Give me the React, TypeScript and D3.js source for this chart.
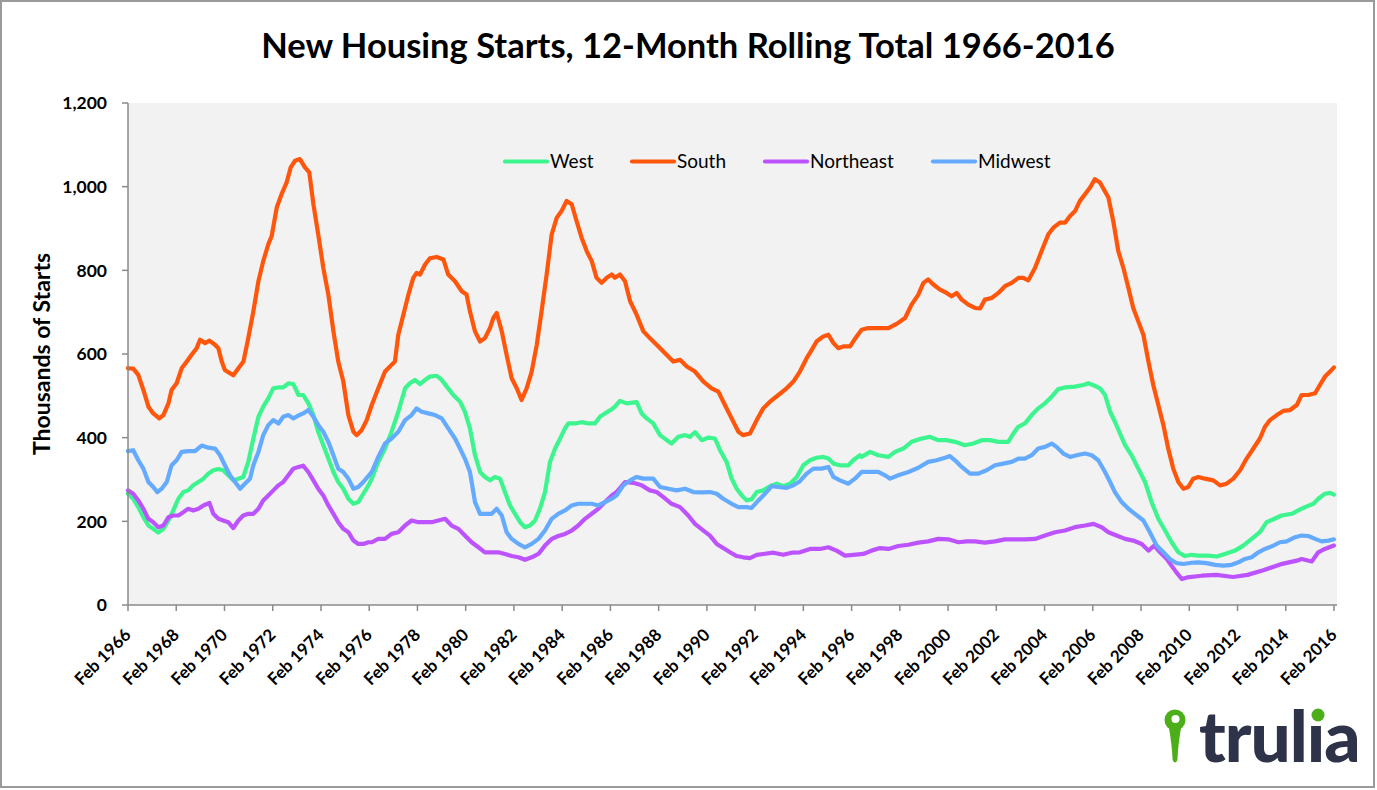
import React from "react";
import * as d3 from "d3";

type Pt = [number, number];

const seriesNames = ["West", "South", "Northeast", "Midwest"];
const seriesColors = ["#3DF58F", "#FF560B", "#BD52FF", "#64AAFF"];

const westData: Pt[] = [
  [1966.08,266],[1966.30,254],[1966.51,234],[1966.72,210],[1966.93,190],[1967.13,182],[1967.34,173],[1967.55,182],[1967.76,202],[1967.96,226],[1968.17,254],[1968.38,270],[1968.58,274],[1968.79,286],[1969.00,294],[1969.21,302],[1969.41,314],[1969.62,322],[1969.83,325],[1970.03,322],[1970.24,310],[1970.45,298],[1970.66,302],[1970.86,306],[1971.07,342],[1971.28,398],[1971.49,450],[1971.69,474],[1971.90,494],[1972.11,518],[1972.32,520],[1972.52,520],[1972.73,530],[1972.94,528],[1973.15,502],[1973.35,502],[1973.56,482],[1973.77,454],[1973.97,414],[1974.18,382],[1974.39,350],[1974.60,318],[1974.80,294],[1975.01,278],[1975.22,254],[1975.43,242],[1975.63,246],[1975.84,266],[1976.05,286],
  [1976.19,302],[1976.46,342],[1976.74,374],[1977.01,414],[1977.29,462],[1977.57,518],[1977.77,530],[1977.98,538],[1978.19,528],[1978.40,538],[1978.60,546],[1978.88,548],[1979.09,538],[1979.30,522],[1979.57,502],[1979.85,486],[1980.05,462],[1980.26,422],[1980.47,358],[1980.68,318],[1980.88,306],[1981.09,298],[1981.30,306],[1981.51,302],[1981.71,270],[1981.92,238],[1982.13,218],[1982.34,198],[1982.54,186],[1982.75,190],[1982.96,202],[1983.16,230],[1983.37,270],[1983.58,342],[1983.79,374],[1984.00,398],[1984.20,422],[1984.34,434],[1984.62,434],[1984.89,437],[1985.17,434],[1985.44,434],[1985.65,450],[1985.86,458],[1986.14,468],
  [1986.27,474],[1986.48,488],[1986.76,482],[1987.17,485],[1987.38,458],[1987.59,446],[1987.86,434],[1988.14,406],[1988.42,394],[1988.62,386],[1988.90,402],[1989.18,406],[1989.38,402],[1989.59,413],[1989.87,394],[1990.14,400],[1990.42,398],[1990.63,370],[1990.90,342],[1991.11,302],[1991.32,278],[1991.53,262],[1991.73,250],[1991.94,253],[1992.15,270],[1992.42,274],[1992.70,284],[1992.98,290],[1993.25,284],[1993.53,290],[1993.81,306],[1994.08,334],[1994.36,346],[1994.63,352],[1994.91,354],[1995.12,350],[1995.33,338],[1995.60,334],[1995.95,334],[1996.15,346],[1996.43,358],
  [1996.50,354],[1996.85,366],[1997.19,358],[1997.61,354],[1997.88,366],[1998.23,374],[1998.57,390],[1998.99,398],[1999.33,402],[1999.68,394],[2000.02,394],[2000.37,390],[2000.78,382],[2001.13,386],[2001.48,394],[2001.82,394],[2002.17,390],[2002.58,390],[2002.79,410],[2002.99,426],[2003.27,434],[2003.55,454],[2003.82,470],[2004.10,482],[2004.38,498],[2004.65,516],[2004.93,520],[2005.34,522],[2005.69,526],[2005.90,530],[2006.17,524],
  [2006.38,518],[2006.59,502],[2006.80,462],[2007.00,438],[2007.21,410],[2007.42,382],[2007.69,358],[2007.97,326],[2008.25,294],[2008.52,246],[2008.80,206],[2009.08,178],[2009.35,150],[2009.63,126],[2009.91,117],[2010.18,120],[2010.46,118],[2010.87,118],[2011.22,116],[2011.56,122],[2011.98,130],[2012.32,142],[2012.67,158],[2013.01,174],[2013.29,198],[2013.57,205],[2013.91,214],[2014.33,218],[2014.60,226],[2014.88,234],[2015.23,242],[2015.43,254],[2015.71,266],[2015.92,268],[2016.08,264],
];

const southData: Pt[] = [
  [1966.08,566],[1966.30,565],[1966.51,550],[1966.72,514],[1966.93,474],[1967.13,458],[1967.38,446],[1967.55,454],[1967.76,482],[1967.89,514],[1968.10,530],[1968.31,566],[1968.52,582],[1968.72,598],[1968.93,614],[1969.07,634],[1969.28,626],[1969.46,632],[1969.69,622],[1969.83,614],[1969.97,582],[1970.10,562],[1970.31,554],[1970.45,549],[1970.66,566],[1970.87,582],[1971.07,638],[1971.28,702],[1971.49,774],[1971.69,822],[1971.90,862],[1972.04,882],[1972.25,950],[1972.45,982],[1972.66,1010],[1972.83,1046],[1973.01,1062],[1973.21,1066],[1973.42,1046],[1973.60,1034],[1973.77,958],[1973.97,886],[1974.18,806],[1974.39,742],[1974.60,654],[1974.80,582],[1975.01,534],[1975.22,454],[1975.43,414],[1975.56,406],[1975.77,418],[1975.98,442],
  [1976.19,478],[1976.46,518],[1976.74,558],[1977.01,574],[1977.15,582],[1977.29,646],[1977.50,694],[1977.71,742],[1977.91,782],[1978.05,794],[1978.19,790],[1978.40,814],[1978.60,829],[1978.88,832],[1979.16,826],[1979.36,790],[1979.64,774],[1979.92,750],[1980.12,742],[1980.26,702],[1980.47,654],[1980.68,630],[1980.88,638],[1981.09,662],[1981.23,686],[1981.37,698],[1981.58,654],[1981.78,598],[1981.99,542],[1982.20,518],[1982.40,490],[1982.61,518],[1982.82,558],[1983.03,622],[1983.23,702],[1983.44,790],[1983.65,886],[1983.86,926],[1984.06,942],[1984.27,966],[1984.48,958],[1984.68,918],[1984.89,878],[1985.10,846],[1985.31,822],[1985.51,782],[1985.72,770],[1985.93,782],[1986.14,790],
  [1986.27,782],[1986.48,790],[1986.69,774],[1986.90,726],[1987.17,694],[1987.45,654],[1987.72,638],[1988.00,622],[1988.35,602],[1988.69,582],[1988.97,586],[1989.25,570],[1989.59,558],[1989.94,534],[1990.28,518],[1990.56,510],[1990.83,478],[1991.11,446],[1991.39,414],[1991.59,406],[1991.87,410],[1992.15,442],[1992.42,470],[1992.70,486],[1993.05,502],[1993.39,518],[1993.67,534],[1993.94,558],[1994.22,590],[1994.43,610],[1994.63,630],[1994.91,642],[1995.12,646],[1995.33,626],[1995.53,614],[1995.74,618],[1996.02,618],[1996.29,642],
  [1996.50,658],[1996.78,662],[1997.19,662],[1997.61,662],[1997.95,672],[1998.30,686],[1998.57,718],[1998.85,742],[1999.06,770],[1999.26,778],[1999.47,766],[1999.75,754],[2000.02,746],[2000.23,738],[2000.44,746],[2000.65,730],[2000.92,718],[2001.20,710],[2001.41,709],[2001.61,730],[2001.89,734],[2002.17,746],[2002.44,762],[2002.72,770],[2003.00,782],[2003.20,782],[2003.41,776],[2003.69,806],[2003.96,846],[2004.24,886],[2004.45,902],[2004.72,914],[2004.93,914],[2005.14,930],[2005.35,942],[2005.55,966],[2005.76,982],[2005.97,998],[2006.17,1018],
  [2006.38,1010],[2006.73,974],[2006.93,918],[2007.14,846],[2007.35,806],[2007.56,758],[2007.76,710],[2007.97,678],[2008.18,646],[2008.39,582],[2008.59,526],[2008.80,478],[2009.01,430],[2009.21,374],[2009.42,326],[2009.63,294],[2009.84,278],[2010.04,282],[2010.25,302],[2010.46,306],[2010.73,302],[2011.08,298],[2011.36,286],[2011.63,290],[2011.91,302],[2012.19,322],[2012.46,350],[2012.74,374],[2013.01,398],[2013.22,426],[2013.43,442],[2013.71,454],[2013.98,464],[2014.26,466],[2014.54,478],[2014.74,502],[2015.02,502],[2015.30,506],[2015.50,526],[2015.71,546],[2015.92,558],[2016.08,568],
];

const northeastData: Pt[] = [
  [1966.08,274],[1966.30,266],[1966.51,250],[1966.72,230],[1966.93,206],[1967.13,198],[1967.34,186],[1967.55,190],[1967.76,210],[1967.96,214],[1968.17,214],[1968.38,222],[1968.58,230],[1968.79,226],[1969.00,230],[1969.21,238],[1969.46,244],[1969.62,218],[1969.83,206],[1970.03,202],[1970.24,198],[1970.45,184],[1970.66,202],[1970.86,214],[1971.07,218],[1971.28,218],[1971.49,230],[1971.69,250],[1971.90,262],[1972.11,274],[1972.32,286],[1972.52,294],[1972.73,310],[1972.94,326],[1973.15,330],[1973.35,333],[1973.56,318],[1973.77,298],[1973.97,278],[1974.18,262],[1974.39,238],[1974.60,218],[1974.80,198],[1975.01,182],[1975.22,174],[1975.43,154],[1975.63,146],[1975.84,146],[1976.05,150],
  [1976.19,150],[1976.46,158],[1976.74,158],[1977.01,170],[1977.29,174],[1977.57,190],[1977.84,202],[1978.12,198],[1978.40,198],[1978.67,198],[1978.95,202],[1979.23,206],[1979.50,190],[1979.78,182],[1980.05,166],[1980.33,150],[1980.61,138],[1980.88,126],[1981.16,126],[1981.44,126],[1981.71,122],[1981.99,117],[1982.27,114],[1982.54,108],[1982.82,114],[1983.10,122],[1983.37,142],[1983.65,158],[1983.92,165],[1984.20,170],[1984.48,178],[1984.75,190],[1985.03,206],[1985.31,218],[1985.58,230],[1985.86,246],[1986.14,262],
  [1986.34,270],[1986.69,294],[1987.03,292],[1987.38,286],[1987.72,274],[1988.00,270],[1988.28,258],[1988.62,242],[1988.97,234],[1989.31,214],[1989.59,194],[1989.94,178],[1990.21,166],[1990.49,146],[1990.76,136],[1991.04,126],[1991.32,117],[1991.59,114],[1991.87,112],[1992.15,120],[1992.42,122],[1992.84,125],[1993.25,120],[1993.60,125],[1993.94,126],[1994.36,134],[1994.77,134],[1995.12,138],[1995.46,130],[1995.81,118],[1996.15,120],
  [1996.57,122],[1996.91,130],[1997.26,136],[1997.61,134],[1998.02,141],[1998.44,144],[1998.85,149],[1999.26,152],[1999.68,158],[2000.09,157],[2000.51,150],[2000.85,152],[2001.20,152],[2001.61,149],[2002.03,152],[2002.44,157],[2002.86,157],[2003.27,157],[2003.69,158],[2004.10,166],[2004.52,174],[2004.93,178],[2005.34,186],[2005.76,190],[2006.11,194],
  [2006.45,186],[2006.73,174],[2007.07,166],[2007.42,158],[2007.76,154],[2008.11,146],[2008.39,130],[2008.63,142],[2008.87,126],[2009.15,110],[2009.35,94],[2009.55,78],[2009.77,62],[2010.00,66],[2010.60,70],[2011.20,72],[2011.90,67],[2012.50,72],[2013.15,83],[2013.85,97],[2014.54,106],[2014.74,110],[2015.16,104],[2015.43,126],[2015.70,134],[2016.08,142],
];

const midwestData: Pt[] = [
  [1966.08,368],[1966.30,370],[1966.51,346],[1966.72,326],[1966.93,294],[1967.13,282],[1967.30,270],[1967.48,278],[1967.69,294],[1967.89,334],[1968.10,346],[1968.31,366],[1968.58,368],[1968.86,368],[1969.14,381],[1969.41,376],[1969.69,374],[1969.90,358],[1970.10,334],[1970.31,310],[1970.52,294],[1970.73,278],[1970.93,290],[1971.14,302],[1971.28,334],[1971.49,366],[1971.69,406],[1971.90,430],[1972.11,442],[1972.32,434],[1972.52,450],[1972.73,454],[1972.94,446],[1973.15,453],[1973.35,458],[1973.56,466],[1973.77,450],[1973.97,430],[1974.18,414],[1974.39,390],[1974.60,358],[1974.80,326],[1975.01,318],[1975.22,302],[1975.43,278],[1975.63,282],[1975.84,294],
  [1976.19,318],[1976.46,354],[1976.74,386],[1977.01,398],[1977.29,414],[1977.57,442],[1977.84,454],[1978.05,470],[1978.26,462],[1978.53,458],[1978.81,454],[1979.09,446],[1979.36,422],[1979.64,398],[1979.85,374],[1980.05,350],[1980.26,318],[1980.47,246],[1980.68,218],[1980.88,218],[1981.16,218],[1981.37,230],[1981.58,214],[1981.78,174],[1981.99,158],[1982.27,146],[1982.54,138],[1982.82,146],[1983.10,158],[1983.37,178],[1983.65,206],[1983.92,218],[1984.20,226],[1984.48,238],[1984.75,242],[1985.03,242],[1985.31,242],[1985.58,238],[1985.86,246],[1986.14,254],
  [1986.34,262],[1986.62,286],[1986.90,298],[1987.17,306],[1987.45,302],[1987.86,302],[1988.14,282],[1988.48,278],[1988.83,274],[1989.18,278],[1989.52,270],[1989.87,269],[1990.21,270],[1990.49,266],[1990.76,254],[1991.11,242],[1991.39,234],[1991.73,234],[1991.94,232],[1992.22,250],[1992.49,266],[1992.77,284],[1993.05,282],[1993.39,280],[1993.67,286],[1993.94,296],[1994.22,314],[1994.50,326],[1994.84,326],[1995.12,330],[1995.33,306],[1995.60,298],[1995.95,290],[1996.22,302],
  [1996.50,318],[1996.85,318],[1997.19,318],[1997.47,310],[1997.68,302],[1998.02,310],[1998.44,318],[1998.85,328],[1999.26,342],[1999.61,346],[1999.96,352],[2000.16,356],[2000.37,346],[2000.65,330],[2000.99,314],[2001.34,314],[2001.68,322],[2002.03,334],[2002.37,338],[2002.72,342],[2003.00,350],[2003.27,350],[2003.55,358],[2003.82,374],[2004.10,378],[2004.38,386],[2004.58,378],[2004.86,362],[2005.14,354],[2005.41,358],[2005.76,362],[2006.04,358],[2006.31,346],
  [2006.59,318],[2006.80,294],[2007.00,270],[2007.28,246],[2007.56,230],[2007.83,218],[2008.18,202],[2008.45,174],[2008.73,142],[2009.01,126],[2009.28,110],[2009.56,100],[2009.84,98],[2010.18,101],[2010.46,102],[2010.80,100],[2011.15,96],[2011.49,94],[2011.84,96],[2012.12,102],[2012.39,110],[2012.67,114],[2012.95,126],[2013.22,134],[2013.57,142],[2013.84,150],[2014.12,152],[2014.47,162],[2014.74,166],[2015.02,165],[2015.30,158],[2015.57,152],[2015.85,154],[2016.08,157],
];

const yTicks = [0, 200, 400, 600, 800, 1000, 1200];
const xTickYears = [1966, 1968, 1970, 1972, 1974, 1976, 1978, 1980, 1982, 1984, 1986, 1988, 1990, 1992, 1994, 1996, 1998, 2000, 2002, 2004, 2006, 2008, 2010, 2012, 2014, 2016];
const xTickLabels = xTickYears.map((y) => `Feb ${y}`);

const titleText = "New Housing Starts, 12-Month Rolling Total 1966-2016";
const yAxisTitle = "Thousands of Starts";

const FONT = "Lato, 'Open Sans', sans-serif";

export default function App() {
  const W = 1377, H = 790;
  const left = 128, right = 1334, top = 103, bottom = 605;
  const x = d3.scaleLinear().domain([1966 + 1 / 12, 2016 + 1 / 12]).range([left, right]);
  const y = d3.scaleLinear().domain([0, 1200]).range([bottom, top]);
  const line = d3.line<Pt>().x((d) => x(d[0])).y((d) => y(d[1]));
  const allData = [westData, southData, northeastData, midwestData];
  const fmt = d3.format(",");
  const axisColor = "#8a8a8a";

  const legendItems = [
    { lx: 505, tx: 550 },
    { lx: 632, tx: 677 },
    { lx: 765, tx: 810 },
    { lx: 933, tx: 978 },
  ];
  const legendY = 161.5;

  return (
    <svg width={W} height={H} style={{ position: "absolute", left: 0, top: 0 }} fontFamily={FONT}>
      <rect x={1} y={1} width={1373} height={786} fill="#fff" stroke="#9a9a9a" strokeWidth={2} />
      <text x={688} y={58} textAnchor="middle" fontSize={34.5} fontWeight={700} fill="#000">{titleText}</text>
      <rect x={left} y={top} width={1337 - left} height={bottom - top} fill="#f2f2f2" />

      {allData.map((d, i) => (
        <path key={seriesNames[i]} d={line(d) || ""} fill="none" stroke={seriesColors[i]} strokeWidth={4.2} strokeLinejoin="round" strokeLinecap="round" />
      ))}

      {/* y axis */}
      <line x1={left} x2={left} y1={top} y2={bottom} stroke={axisColor} strokeWidth={1.5} />
      {yTicks.map((t) => (
        <g key={t}>
          <line x1={left - 6} x2={left} y1={y(t)} y2={y(t)} stroke={axisColor} strokeWidth={1.5} />
          <text x={107} y={y(t)} dy="0.36em" textAnchor="end" fontSize={17.5} fontWeight={700} fill="#000">{fmt(t)}</text>
        </g>
      ))}
      {/* x axis */}
      <line x1={left} x2={1337} y1={bottom} y2={bottom} stroke={axisColor} strokeWidth={1.5} />
      {xTickYears.map((yr, i) => {
        const xx = x(yr + 1 / 12);
        return (
          <g key={yr}>
            <line x1={xx} x2={xx} y1={bottom} y2={bottom + 6} stroke={axisColor} strokeWidth={1.5} />
            <text transform={`translate(${xx + 4},${bottom + 31}) rotate(-45)`} textAnchor="end" fontSize={17} fontWeight={700} fill="#000">{xTickLabels[i]}</text>
          </g>
        );
      })}
      <text transform={`translate(50,354) rotate(-90)`} textAnchor="middle" fontSize={23} fontWeight={700} fill="#000">{yAxisTitle}</text>

      {/* legend */}
      {legendItems.map((it, i) => (
        <g key={seriesNames[i]}>
          <line x1={it.lx} x2={it.lx + 42} y1={legendY} y2={legendY} stroke={seriesColors[i]} strokeWidth={4.2} strokeLinecap="round" />
          <text x={it.tx} y={legendY} dy="0.35em" fontSize={19} fill="#000">{seriesNames[i]}</text>
        </g>
      ))}

      {/* logo */}
      <g>
        <circle cx={1175} cy={720} r={10.5} fill="#4CAF1A" />
        <path d="M1168.5,725 Q1172,745 1172.6,760 Q1175,765 1177.4,760 Q1178,745 1181.5,725 Z" fill="#4CAF1A" />
        <circle cx={1175.5} cy={719} r={4} fill="#fff" />
        <text x={1199} y={762} fontSize={71} fontWeight={900} fill="#2F3349" letterSpacing={-1}>trulıa</text>
        <circle cx={1318} cy={715} r={6.5} fill="#4CAF1A" />
      </g>
    </svg>
  );
}
